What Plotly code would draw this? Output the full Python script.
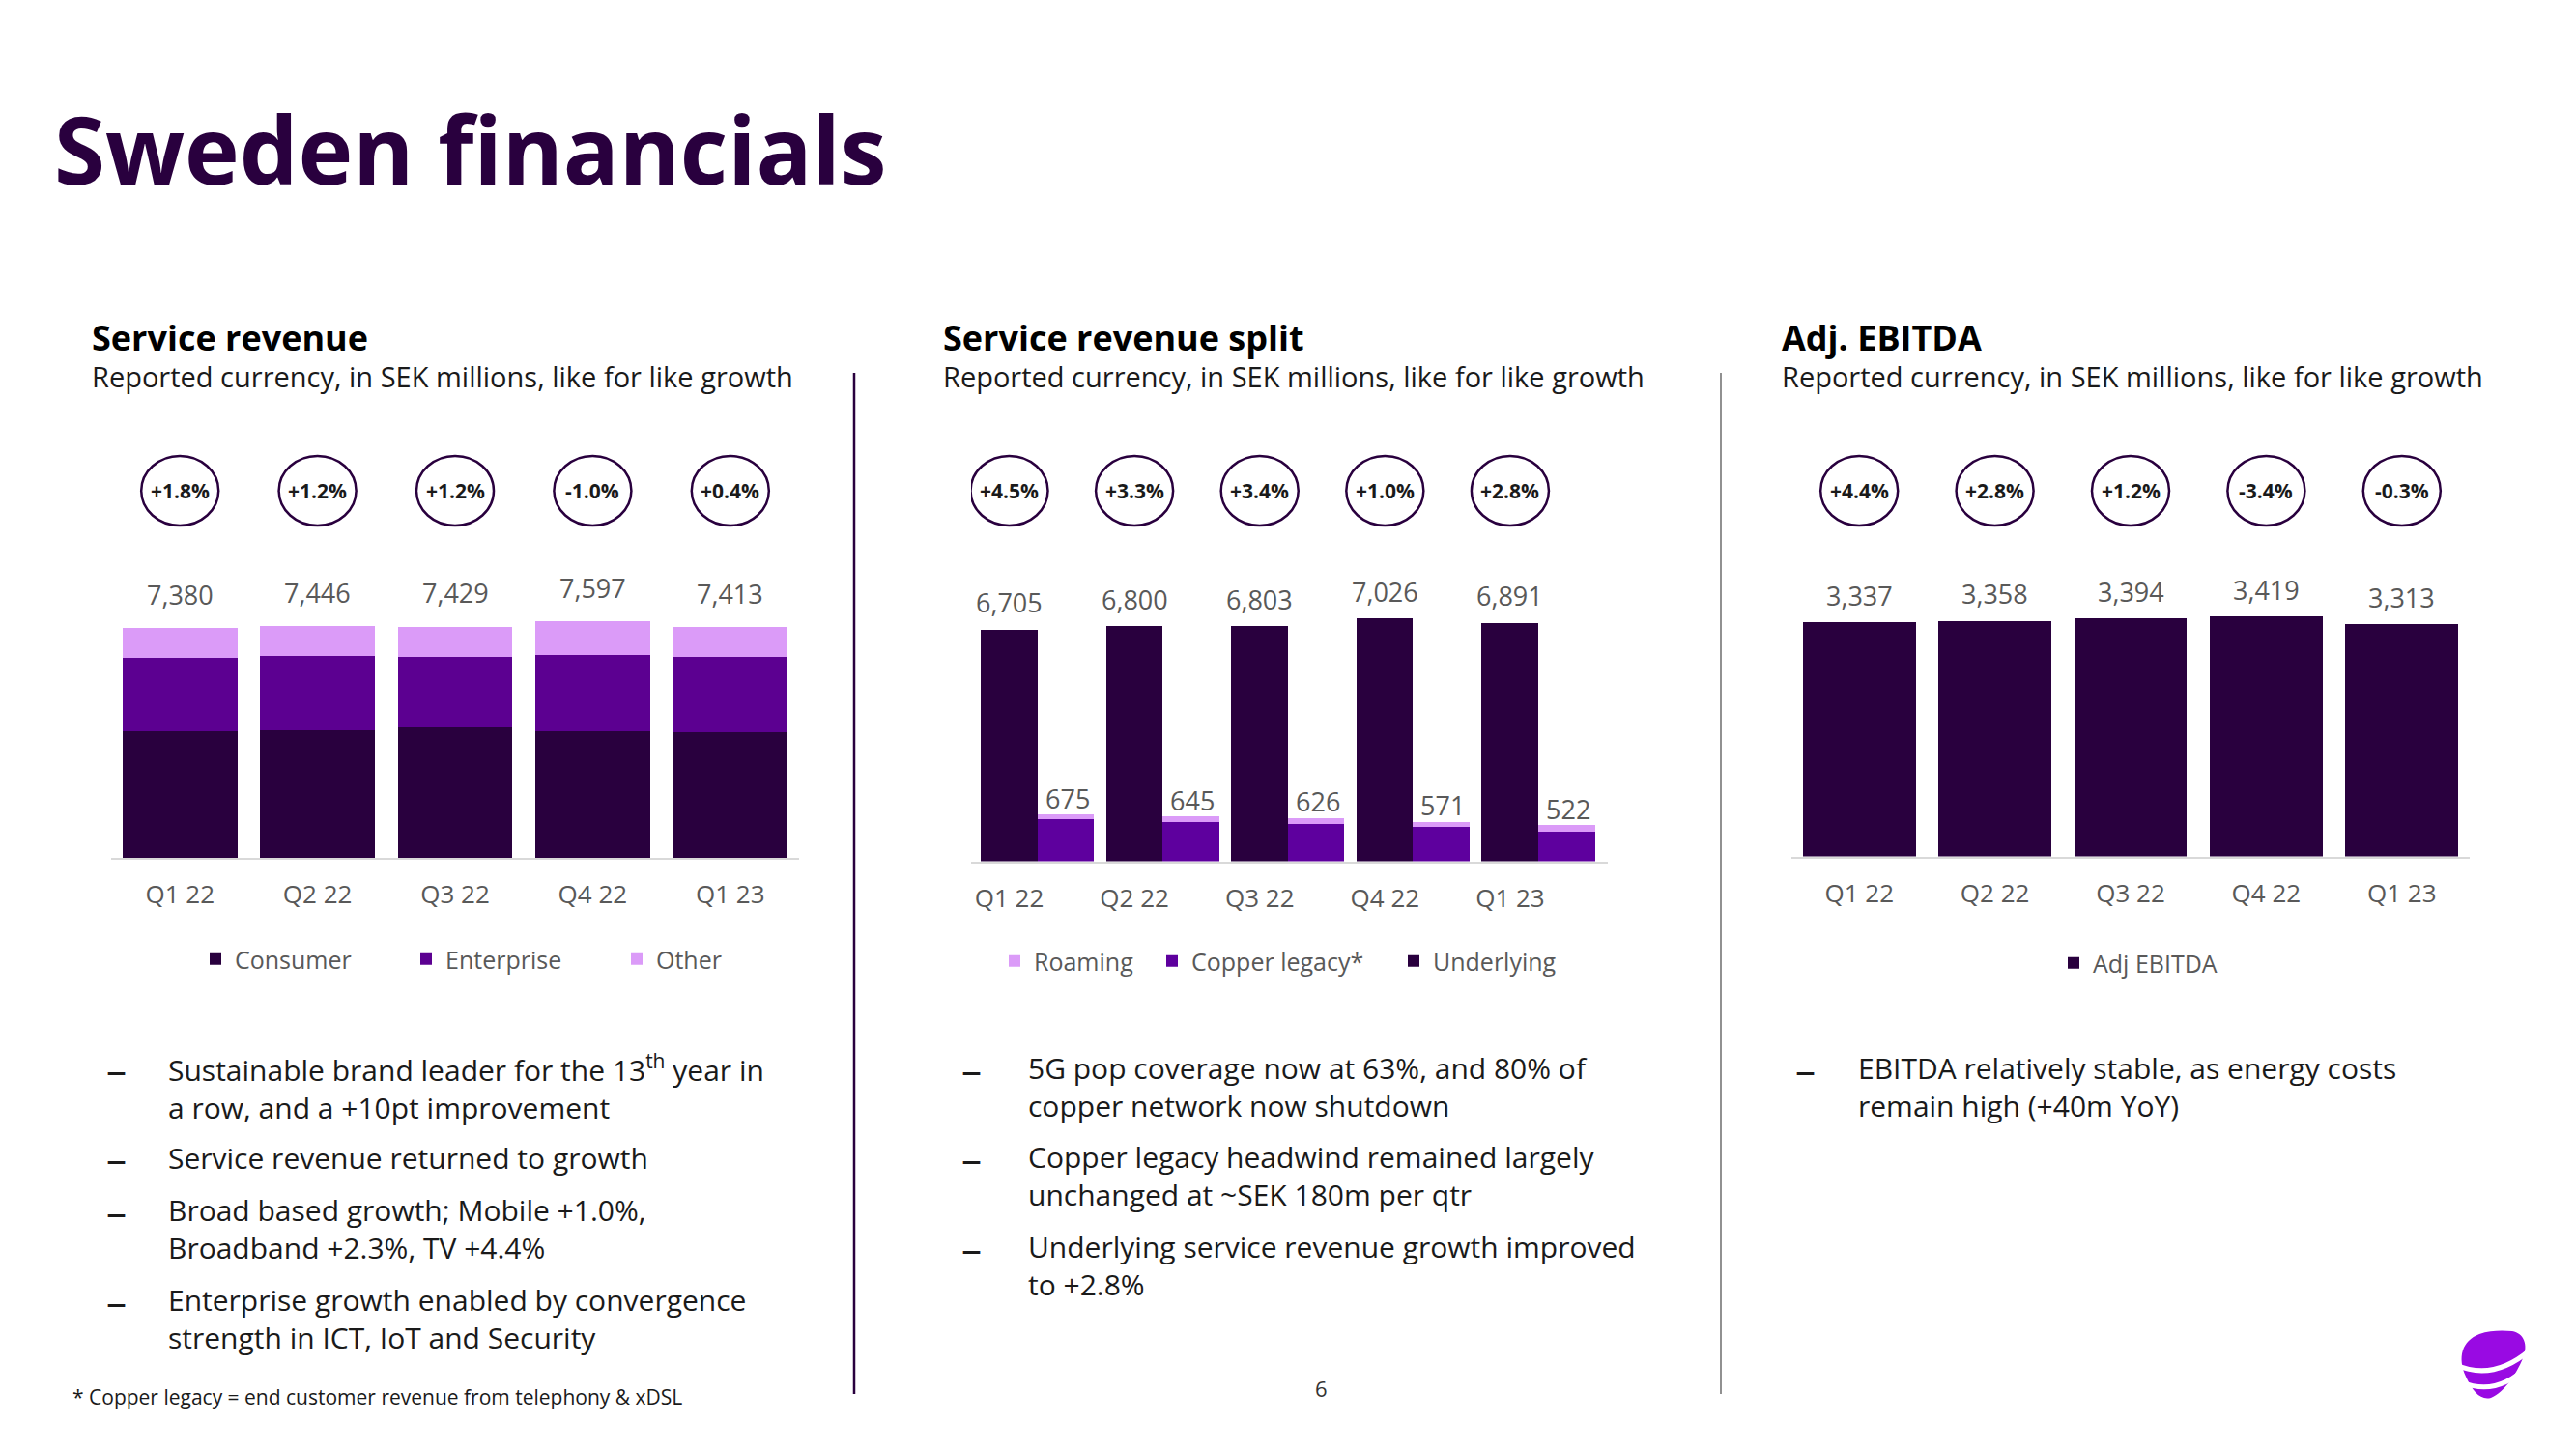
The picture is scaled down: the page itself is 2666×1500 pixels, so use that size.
import plotly.graph_objects as go

# ---------------- data ----------------
quarters = ["Q1 22", "Q2 22", "Q3 22", "Q4 22", "Q1 23"]

# Service revenue (SEK m)
sr_total = [7380, 7446, 7429, 7597, 7413]
sr_consumer = [4077, 4110, 4183, 4082, 4052]
sr_enterprise = [2336, 2380, 2278, 2449, 2393]
sr_other = [967, 956, 968, 1066, 968]
sr_growth = ["+1.8%", "+1.2%", "+1.2%", "-1.0%", "+0.4%"]

# Service revenue split (SEK m)
split_underlying = [6705, 6800, 6803, 7026, 6891]
split_legacy_total = [675, 645, 626, 571, 522]
split_copper = [607, 565, 532, 496, 424]
split_roaming = [68, 80, 94, 75, 98]
split_growth = ["+4.5%", "+3.3%", "+3.4%", "+1.0%", "+2.8%"]

# Adj. EBITDA (SEK m)
ebitda = [3337, 3358, 3394, 3419, 3313]
ebitda_growth = ["+4.4%", "+2.8%", "+1.2%", "-3.4%", "-0.3%"]

# ---------------- style ----------------
W, H = 2666, 1500
OFF = 8  # page body margin compensation
FONT = "Open Sans"
DEEP = "#29003E"
ENT = "#5C0091"
COPPER = "#5E009E"
LIGHT = "#DB9BF8"
GREY = "#595959"
INK = "#1a1a1a"


def X(px):
    return (px - OFF) / W


def Y(py):
    return 1 - (py - OFF) / H


fig = go.Figure()

# Chart 1 – Service revenue (stacked)
for name, vals, col in [("Consumer", sr_consumer, DEEP),
                        ("Enterprise", sr_enterprise, ENT),
                        ("Other", sr_other, LIGHT)]:
    fig.add_trace(go.Bar(x=quarters, y=vals, name=name, marker_color=col,
                         marker_line_width=0, width=0.833, xaxis="x", yaxis="y",
                         legend="legend", hoverinfo="skip"))

# Chart 2 – Service revenue split
BW2 = 0.452
fig.add_trace(go.Bar(x=quarters, y=split_underlying, name="Underlying", marker_color=DEEP,
                     marker_line_width=0, width=BW2, offset=-BW2, xaxis="x2", yaxis="y2",
                     legend="legend2", legendrank=3, hoverinfo="skip"))
fig.add_trace(go.Bar(x=quarters, y=split_copper, name="Copper legacy*", marker_color=COPPER,
                     marker_line_width=0, width=BW2, offset=0, xaxis="x2", yaxis="y3",
                     legend="legend2", legendrank=2, legendwidth=205, hoverinfo="skip"))
fig.add_trace(go.Bar(x=quarters, y=split_roaming, name="Roaming", marker_color=LIGHT,
                     marker_line_width=0, width=BW2, offset=0, xaxis="x2", yaxis="y3",
                     legend="legend2", legendrank=1, legendwidth=118, hoverinfo="skip"))

# Chart 3 – Adj. EBITDA
fig.add_trace(go.Bar(x=quarters, y=ebitda, name="Adj EBITDA", marker_color=DEEP,
                     marker_line_width=0, width=0.832, xaxis="x3", yaxis="y4",
                     legend="legend3", hoverinfo="skip"))

annotations = []
shapes = []

SHIFT2 = -29  # underlying bar centre relative to category centre (px)


def add_circles(xref, growth, xshift):
    for i, g in enumerate(growth):
        shapes.append(dict(type="circle", xref=xref, xsizemode="pixel", xanchor=i,
                           x0=-40 + xshift, x1=40 + xshift,
                           yref="paper", ysizemode="pixel", yanchor=Y(508), y0=-36, y1=36,
                           line=dict(color=DEEP, width=2.5), fillcolor="white", layer="above"))
        annotations.append(dict(x=i, xref=xref, y=Y(508), yref="paper", xshift=xshift,
                                xanchor="center", yanchor="middle",
                                text="<b>%s</b>" % g, showarrow=False,
                                font=dict(family=FONT, size=21, color=INK)))


add_circles("x", sr_growth, 0)
add_circles("x2", split_growth, SHIFT2)
add_circles("x3", ebitda_growth, 0)

VAL_FONT = dict(family=FONT, size=27, color=GREY)
for i, v in enumerate(sr_total):
    annotations.append(dict(x=i, xref="x", y=v, yref="y", yshift=35, text=f"{v:,}",
                            yanchor="middle", showarrow=False, font=VAL_FONT))
for i, v in enumerate(split_underlying):
    annotations.append(dict(x=i, xref="x2", y=v, yref="y2", yshift=28, xshift=SHIFT2,
                            yanchor="middle", text=f"{v:,}", showarrow=False, font=VAL_FONT))
for i, v in enumerate(split_legacy_total):
    annotations.append(dict(x=i, xref="x2", y=v, yref="y3", yshift=17, xshift=-SHIFT2 + 2,
                            yanchor="middle", text=f"{v:,}", showarrow=False, font=VAL_FONT))
for i, v in enumerate(ebitda):
    annotations.append(dict(x=i, xref="x3", y=v, yref="y4", yshift=28, text=f"{v:,}",
                            yanchor="middle", showarrow=False, font=VAL_FONT))

# Titles
annotations.append(dict(x=X(54), y=Y(153), xref="paper", yref="paper", xanchor="left",
                        yanchor="middle", text="<b>Sweden financials</b>", showarrow=False,
                        font=dict(family=FONT, size=96, color=DEEP)))

for x0, title in [(93, "Service revenue"), (974, "Service revenue split"), (1842, "Adj. EBITDA")]:
    annotations.append(dict(x=X(x0), y=Y(349), xref="paper", yref="paper", xanchor="left",
                            yanchor="middle", text="<b>%s</b>" % title, showarrow=False,
                            font=dict(family=FONT, size=36, color="#000000")))
    annotations.append(dict(x=X(x0), y=Y(390), xref="paper", yref="paper", xanchor="left",
                            yanchor="middle",
                            text="Reported currency, in SEK millions, like for like growth",
                            showarrow=False, font=dict(family=FONT, size=29, color=INK)))

# Bullets: (dash x, text x, [(first line centre y, [lines])])
bullets = [
    (120, 172, [
        (1106.7, ["Sustainable brand leader for the 13<sup>th</sup> year in",
                  "a row, and a +10pt improvement"]),
        (1198.3, ["Service revenue returned to growth"]),
        (1253.3, ["Broad based growth; Mobile +1.0%,", "Broadband +2.3%, TV +4.4%"]),
        (1346.7, ["Enterprise growth enabled by convergence",
                  "strength in ICT, IoT and Security"]),
    ]),
    (1006, 1062, [
        (1106.7, ["5G pop coverage now at 63%, and 80% of", "copper network now shutdown"]),
        (1198.3, ["Copper legacy headwind remained largely", "unchanged at ~SEK 180m per qtr"]),
        (1291.7, ["Underlying service revenue growth improved", "to +2.8%"]),
    ]),
    (1868, 1921, [
        (1106.7, ["EBITDA relatively stable, as energy costs", "remain high (+40m YoY)"]),
    ]),
]
LINE = 36.6
for dash_x, text_x, items in bullets:
    for y0, lines in items:
        annotations.append(dict(x=X(dash_x), y=Y(y0), xref="paper", yref="paper",
                                xanchor="center", yanchor="middle", text="–", showarrow=False,
                                font=dict(family=FONT, size=42, color=INK)))
        yc = y0 + (len(lines) - 1) * LINE / 2
        annotations.append(dict(x=X(text_x), y=Y(yc), xref="paper", yref="paper",
                                xanchor="left", yanchor="middle", align="left",
                                text="<br>".join(lines), showarrow=False,
                                font=dict(family=FONT, size=30, color=INK)))

annotations.append(dict(x=X(73), y=Y(1446), xref="paper", yref="paper", xanchor="left",
                        yanchor="middle",
                        text="* Copper legacy = end customer revenue from telephony &amp; xDSL",
                        showarrow=False, font=dict(family=FONT, size=21, color=INK)))
annotations.append(dict(x=X(1367), y=Y(1437), xref="paper", yref="paper", text="6",
                        xanchor="center", yanchor="middle",
                        showarrow=False, font=dict(family=FONT, size=22, color="#333333")))

# Dividers
shapes.append(dict(type="line", xref="paper", yref="paper", x0=X(884), x1=X(884),
                   y0=Y(386), y1=Y(1443), line=dict(color=DEEP, width=2.5)))
shapes.append(dict(type="line", xref="paper", yref="paper", x0=X(1781), x1=X(1781),
                   y0=Y(386), y1=Y(1443), line=dict(color="#555555", width=1.3)))


# Logo (Telia pebble)
def ppath(cmds):
    out = []
    for c in cmds:
        if isinstance(c, str):
            out.append(c)
        else:
            out.append("%.5f,%.5f" % (X(c[0]), Y(c[1])))
    return " ".join(out)


egg = ppath(["M", (2600, 1378), "C", (2612, 1380), (2617, 1392), (2611, 1406),
             "C", (2604, 1423), (2592, 1441), (2578, 1447),
             "C", (2567, 1450), (2559, 1440), (2552, 1425),
             "C", (2543, 1405), (2548, 1388), (2566, 1381),
             "C", (2577, 1377), (2590, 1377), (2600, 1378), "Z"])
shapes.append(dict(type="path", xref="paper", yref="paper", path=egg,
                   fillcolor="#990AE3", line=dict(width=0)))
for p in [["M", (2542, 1413), "Q", (2580, 1430), (2618, 1398)],
          ["M", (2548, 1431), "Q", (2584, 1446), (2616, 1414)]]:
    shapes.append(dict(type="path", xref="paper", yref="paper", path=ppath(p),
                       line=dict(color="white", width=5)))

# ---------------- axes ----------------
VPP1, VPP2, VPP3 = 31.05, 27.94, 13.775  # SEK m per pixel
TOP = 600

xcommon = dict(type="category", showgrid=False, zeroline=False, showline=True,
               linecolor="#D9D9D9", linewidth=2, ticks="", fixedrange=True,
               tickfont=dict(family=FONT, size=26, color=GREY), ticklabelstandoff=14)
ycommon = dict(visible=False, showgrid=False, zeroline=False, fixedrange=True)

legcommon = dict(orientation="h", xanchor="left", yanchor="middle", itemwidth=30,
                 bgcolor="rgba(0,0,0,0)", traceorder="normal", itemclick=False,
                 itemdoubleclick=False, font=dict(family=FONT, size=25, color=GREY))

fig.update_layout(
    width=W, height=H, margin=dict(l=0, r=0, t=0, b=0),
    paper_bgcolor="white", plot_bgcolor="white",
    barmode="stack", showlegend=True,
    xaxis=dict(domain=[X(115), X(827)], anchor="y", range=[-0.5, 4.5], **xcommon),
    yaxis=dict(domain=[Y(888), Y(TOP)], anchor="x", range=[0, (888 - TOP) * VPP1], **ycommon),
    xaxis2=dict(domain=[X(1005), X(1664)], anchor="y2", range=[-0.5285, 4.556],
                ticklabelshift=SHIFT2, **xcommon),
    yaxis2=dict(domain=[Y(891.5), Y(TOP)], anchor="x2", range=[0, (891.5 - TOP) * VPP2], **ycommon),
    yaxis3=dict(overlaying="y2", anchor="x2", range=[0, (891.5 - TOP) * VPP2 / 2], **ycommon),
    xaxis3=dict(domain=[X(1854), X(2556)], anchor="y4", range=[-0.5, 4.5], **xcommon),
    yaxis4=dict(domain=[Y(886.6), Y(TOP)], anchor="x3", range=[0, (886.6 - TOP) * VPP3], **ycommon),
    legend=dict(x=X(203), y=Y(993), entrywidth=173, entrywidthmode="pixels", **legcommon),
    legend2=dict(x=X(1030), y=Y(995), **legcommon),
    legend3=dict(x=X(2126), y=Y(997), **legcommon),
    annotations=annotations, shapes=shapes,
)

fig.write_html("out.html")
